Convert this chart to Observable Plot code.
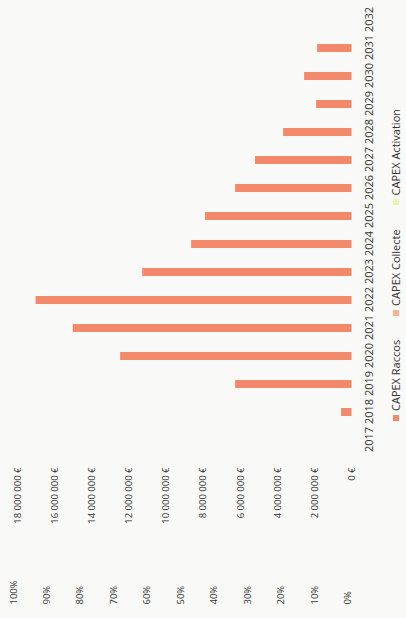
<!DOCTYPE html>
<html>
<head>
<meta charset="utf-8">
<script src="https://cdn.jsdelivr.net/npm/d3@7"></script>
<script src="https://cdn.jsdelivr.net/npm/@observablehq/plot@0.6"></script>
<style>
  html, body { margin: 0; padding: 0; background: #f9f9f7; overflow: hidden; }
  body { width: 406px; height: 618px; position: relative; }
  #frame {
    position: absolute; left: 0; top: 0;
    width: 618px; height: 406px;
    transform-origin: 0 0;
    transform: translate(0px, 618px) rotate(-90deg);
    font-family: "Open Sans", sans-serif;
    color: #333333;
  }
  #legend {
    height: 21px; display: flex; align-items: center;
    padding-left: 197px; font-size: 11px; color: #333333;
  }
  #legend .item { display: flex; align-items: center; margin-right: 24px; }
  #legend .sw { width: 6px; height: 6px; margin-right: 4px; }
</style>
</head>
<body>
<div id="frame"><div id="chart"></div><div id="legend"></div></div>
<script>
const years = ["2017","2018","2019","2020","2021","2022","2023","2024","2025","2026","2027","2028","2029","2030","2031","2032"];
const raccos = [0, 560000, 6260000, 12450000, 15000000, 17000000, 11260000, 8630000, 7880000, 6260000, 5190000, 3680000, 1900000, 2550000, 1850000, 0];
const collecte = [0,0,0,0,0,0,0,0,0,0,0,0,0,0,0,0];
const activation = [0,0,0,0,0,0,0,0,0,0,0,0,0,0,0,0];
const seriesNames = ["CAPEX Raccos", "CAPEX Collecte", "CAPEX Activation"];
const seriesColors = ["#f3896b", "#f5b38e", "#eef1b6"];
const euroTicks = [0, 2000000, 4000000, 6000000, 8000000, 10000000, 12000000, 14000000, 16000000, 18000000];
const pctTicks = [0, 0.1, 0.2, 0.3, 0.4, 0.5, 0.6, 0.7, 0.8, 0.9, 1];
const euroMax = 18000000;

const seriesValues = [raccos, collecte, activation];
const rows = years.flatMap((yr, i) => seriesNames.map((s, k) => ({year: yr, series: s, value: seriesValues[k][i]})));

const fmtEuro = v => d3.format(",")(v).replace(/,/g, " ") + " €";
const fmtPct = p => Math.round(p * 100) + "%";

const chart = Plot.plot({
  width: 618,
  height: 385,
  marginTop: 17,
  marginBottom: 33.5,
  marginLeft: 162,
  marginRight: 4,
  style: {fontFamily: "Open Sans, sans-serif", fontSize: "11px", color: "#333333", background: "transparent"},
  x: {type: "band", domain: years, paddingInner: 0.72, paddingOuter: 0.36, axis: null, label: null},
  y: {domain: [0, euroMax], axis: null, label: null},
  color: {domain: seriesNames, range: seriesColors},
  marks: [
    Plot.barY(rows, {x: "year", y: "value", fill: "series"}),
    Plot.axisX({tickSize: 0, tickPadding: 13, fill: "#333333", fontSize: 11, label: null}),
    Plot.axisY({ticks: euroTicks, tickFormat: fmtEuro, tickSize: 0, tickPadding: 12, fill: "#333333", fontSize: 9.5, label: null}),
    Plot.text(pctTicks, {y: d => d * euroMax, text: fmtPct, frameAnchor: "left", dx: -149, dy: -4, textAnchor: "start", fill: "#333333", fontSize: 9.5})
  ]
});
document.getElementById("chart").appendChild(chart);

const legend = document.getElementById("legend");
seriesNames.forEach((s, k) => {
  const item = document.createElement("div");
  item.className = "item";
  const sw = document.createElement("span");
  sw.className = "sw";
  sw.style.background = seriesColors[k];
  const t = document.createElement("span");
  t.textContent = s;
  item.appendChild(sw);
  item.appendChild(t);
  legend.appendChild(item);
});
</script>
</body>
</html>
